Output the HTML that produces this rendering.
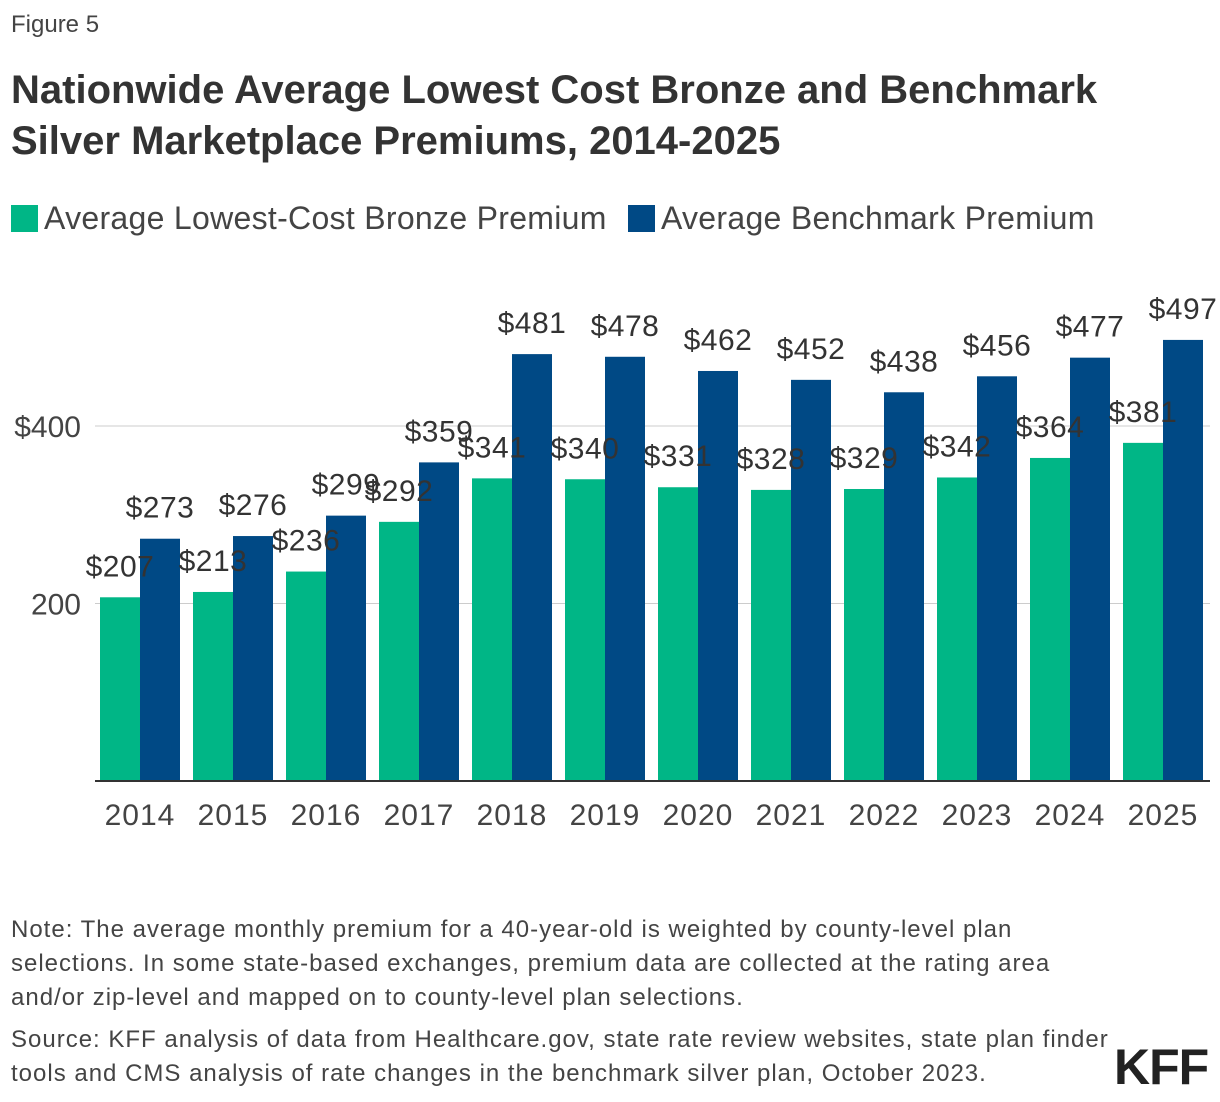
<!DOCTYPE html>
<html><head><meta charset="utf-8">
<style>
body{margin:0;width:1220px;height:1102px;background:#fff;font-family:"Liberation Sans",sans-serif;color:#333;position:relative;overflow:hidden}
.a{position:absolute;white-space:nowrap}
</style></head><body>
<div class="a" style="left:11px;top:11px;font-size:24px;color:#444">Figure 5</div>
<div class="a" style="left:11px;top:65px;font-size:40px;font-weight:bold;line-height:51px;color:#333">Nationwide Average Lowest Cost Bronze and Benchmark<br>Silver Marketplace Premiums, 2014-2025</div>
<div class="a" style="left:11px;top:200px;font-size:32px;letter-spacing:0.3px;color:#444">
<span><span style="display:inline-block;width:27px;height:27px;background:#00b686;vertical-align:-3px;margin-right:6px"></span>Average Lowest-Cost Bronze Premium</span>
<span style="margin-left:12px"><span style="display:inline-block;width:27px;height:27px;background:#004985;vertical-align:-3px;margin-right:6px"></span>Average Benchmark Premium</span>
</div>
<svg id="chart" width="1220" height="900" style="position:absolute;left:0;top:0" font-family="Liberation Sans, sans-serif"></svg>
<div class="a" style="left:11px;top:913px;font-size:24px;letter-spacing:1px;line-height:34px;color:#444">Note: The average monthly premium for a 40-year-old is weighted by county-level plan<br>selections. In some state-based exchanges, premium data are collected at the rating area<br>and/or zip-level and mapped on to county-level plan selections.</div>
<div class="a" style="left:11px;top:1023px;font-size:24px;letter-spacing:1px;line-height:34px;color:#444">Source: KFF analysis of data from Healthcare.gov, state rate review websites, state plan finder<br>tools and CMS analysis of rate changes in the benchmark silver plan, October 2023.</div>
<div class="a" style="left:1114px;top:1038px;font-size:50px;font-weight:bold;color:#222;letter-spacing:-1px">KFF</div>
<script>
const years=["2014","2015","2016","2017","2018","2019","2020","2021","2022","2023","2024","2025"];
const bronze=[207,213,236,292,341,340,331,328,329,342,364,381];
const benchmark=[273,276,299,359,481,478,462,452,438,456,477,497];
const yTicks=[200,400];
const yTickLabels=["200","$400"];
const svg=document.getElementById('chart');
const NS='http://www.w3.org/2000/svg';
const y0=781,k=0.8875;
const yS=v=>y0-v*k;
const xS=i=>100+i*93;
function mk(t,a){const e=document.createElementNS(NS,t);for(const n in a)e.setAttribute(n,a[n]);svg.appendChild(e);return e;}
yTicks.forEach((v,i)=>{
 const l=mk('line',{x1:95,x2:1210,y1:yS(v),y2:yS(v),stroke:'#ccc','stroke-width':1});
 
 
 const t=mk('text',{x:81,y:yS(v)+11,'text-anchor':'end','font-size':30,fill:'#444'});
 t.textContent=yTickLabels[i];
 
 
});
years.forEach((yr,i)=>{
 const x=xS(i);
 [[bronze,'#00b686','bronze',0],[benchmark,'#004985','benchmark',40]].forEach(([arr,c,n,off])=>{
  const v=arr[i];
  const r=mk('rect',{x:x+off,y:yS(v),width:40,height:v*k,fill:c});
  
  
 });
 const t=mk('text',{x:x+40,y:825,'text-anchor':'middle','font-size':30,'letter-spacing':1,fill:'#444'});
 t.textContent=yr;
 
 
});
years.forEach((yr,i)=>{
 const x=xS(i);
 [[bronze,0,'bronze'],[benchmark,40,'benchmark']].forEach(([arr,off,n])=>{
  const v=arr[i];
  const t=mk('text',{x:x+off+20,y:yS(v)-21,'text-anchor':'middle','font-size':30,'letter-spacing':0.5,fill:'#333'});
  t.textContent='$'+v;
  
  
 });
});
const ax=mk('line',{x1:95,x2:1210,y1:y0,y2:y0,stroke:'#333','stroke-width':2});


</script>
</body></html>
